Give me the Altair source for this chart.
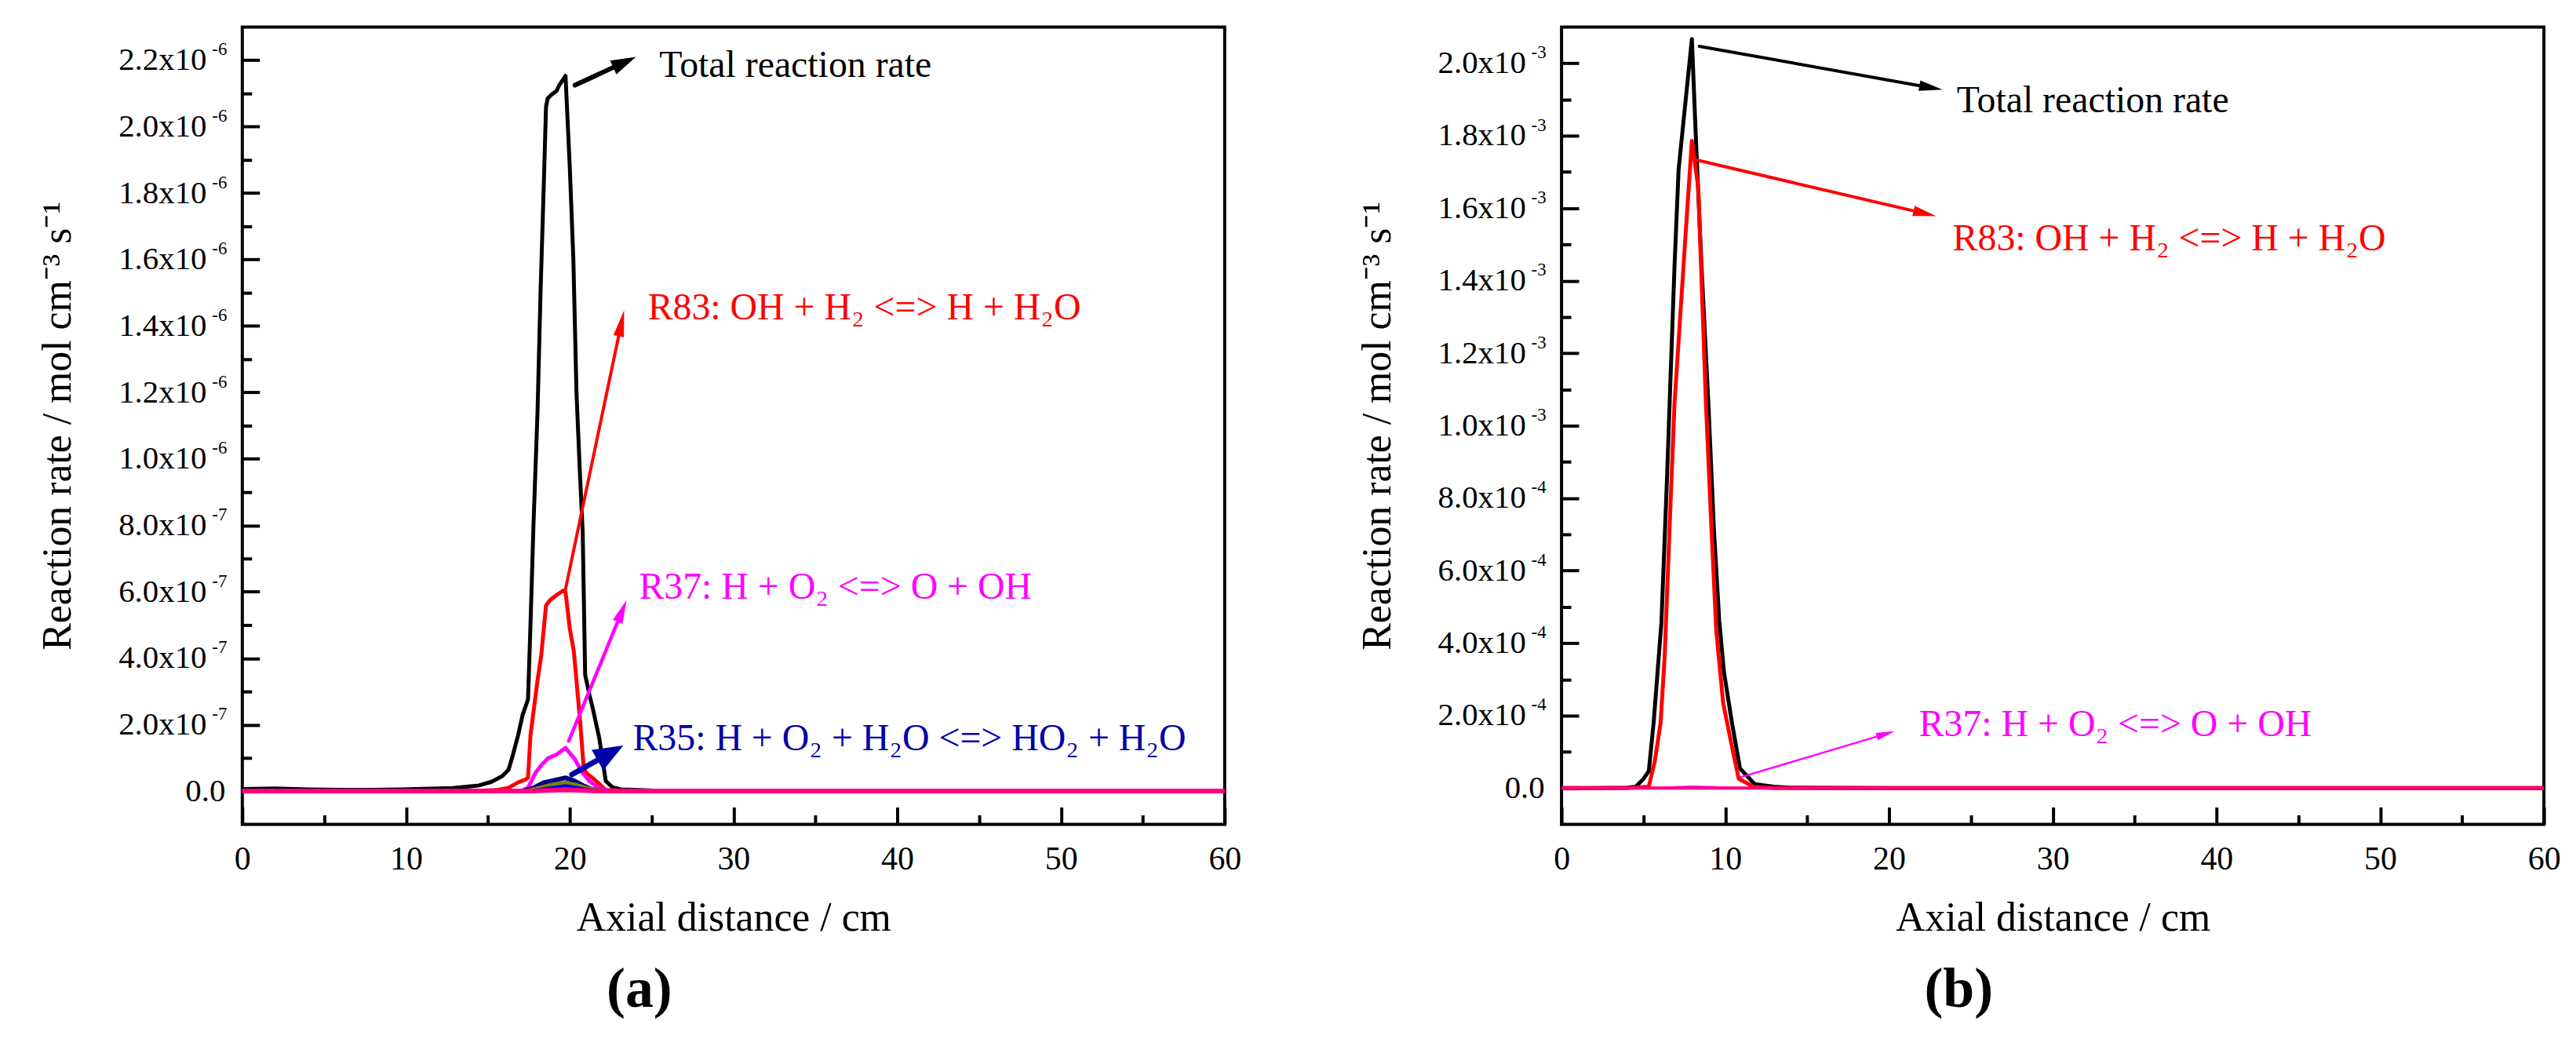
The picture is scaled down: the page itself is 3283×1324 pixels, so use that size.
import math
import altair as alt
import pandas as pd

FONT = "Liberation Serif"
PW, PH = 1257, 1020

X_DOMAIN = [0, 60]
X_TICKS_MAJOR = [0, 10, 20, 30, 40, 50, 60]
X_TICKS_MINOR = [5, 15, 25, 35, 45, 55]

# ---------------- panel (a) data (y in units of 1e-6 mol cm-3 s-1) ----------------
A_UNIT = 1e-6
A_Y_DOMAIN = [-0.1, 2.3]
A_Y_MAJOR = [0.0, 0.2, 0.4, 0.6, 0.8, 1.0, 1.2, 1.4, 1.6, 1.8, 2.0, 2.2]
A_Y_MINOR = [0.1, 0.3, 0.5, 0.7, 0.9, 1.1, 1.3, 1.5, 1.7, 1.9, 2.1]

a_total_x = [0, 2, 4, 6, 8, 9.7, 11, 12.84, 14.45, 15.22, 15.88, 16.26, 16.5, 16.84, 17.12, 17.45,
             17.6, 17.79, 18.03, 18.22, 18.41, 18.55, 18.65, 18.89, 19.2, 19.36, 19.74, 20.0, 20.22,
             20.41, 20.6, 20.79, 20.94, 21.2, 21.4, 21.8, 22.2, 22.6, 23.1, 25, 30, 40, 50, 60]
a_total_y = [0.006, 0.008, 0.005, 0.004, 0.004, 0.005, 0.007, 0.009, 0.017, 0.028, 0.045, 0.064, 0.104,
             0.167, 0.229, 0.276, 0.5, 0.81, 1.14, 1.51, 1.82, 2.06, 2.085, 2.097, 2.108, 2.125, 2.153,
             1.88, 1.6, 1.2, 0.98, 0.78, 0.35, 0.29, 0.25, 0.16, 0.03, 0.012, 0.005, 0.002, 0.001, 0, 0, 0]

a_r83_x = [0, 14, 15.5, 16.26, 16.83, 17.3, 17.45, 17.6, 18.03, 18.26, 18.55, 18.79, 19.2, 19.6, 19.74,
           20.0, 20.25, 20.45, 20.65, 20.85, 21.0, 21.5, 22.2, 24, 30, 60]
a_r83_y = [0, 0, 0.003, 0.01, 0.026, 0.035, 0.04, 0.167, 0.333, 0.41, 0.559, 0.575, 0.59, 0.604, 0.6,
           0.49, 0.42, 0.31, 0.2, 0.07, 0.055, 0.035, 0.003, 0.001, 0, 0]

a_r37_x = [0, 17.0, 17.45, 17.93, 18.3, 18.7, 19.2, 19.74, 20.3, 20.75, 21.2, 21.75, 22.5, 60]
a_r37_y = [0, 0, 0.01, 0.057, 0.08, 0.1, 0.11, 0.13, 0.097, 0.057, 0.03, 0.01, 0, 0]

a_r35_x = [0, 17.2, 17.8, 18.4, 19.0, 19.74, 20.3, 20.8, 21.3, 22.0, 60]
a_r35_y = [0, 0, 0.01, 0.025, 0.032, 0.04, 0.03, 0.017, 0.006, 0, 0]

a_olive_x = [0, 17.3, 18.0, 18.8, 19.74, 20.4, 21.0, 21.6, 22.3, 60]
a_olive_y = [0, 0, 0.008, 0.018, 0.026, 0.019, 0.01, 0.004, 0, 0]

a_blue_x = [0, 17.5, 18.3, 19.0, 19.74, 20.4, 21.1, 21.8, 60]
a_blue_y = [0, 0, 0.006, 0.011, 0.016, 0.011, 0.005, 0, 0]

a_maroon_x = [0, 17.8, 18.8, 19.74, 20.6, 21.5, 60]
a_maroon_y = [0, 0, 0.005, 0.008, 0.005, 0, 0]

a_pink_x = [0, 17.5, 19.74, 22.0, 60]
a_pink_y = [0, 0, 0.004, 0, 0]

# ---------------- panel (b) data (y in units of 1e-3 mol cm-3 s-1) ----------------
B_UNIT = 1e-3
B_Y_DOMAIN = [-0.1, 2.1]
B_Y_MAJOR = [0.0, 0.2, 0.4, 0.6, 0.8, 1.0, 1.2, 1.4, 1.6, 1.8, 2.0]
B_Y_MINOR = [0.1, 0.3, 0.5, 0.7, 0.9, 1.1, 1.3, 1.5, 1.7, 1.9]

b_total_x = [0, 2, 4, 4.53, 5.0, 5.33, 5.63, 6.1, 6.45, 6.6, 6.9, 7.15, 7.96, 8.2, 8.55, 8.97, 9.3,
             9.63, 9.92, 10.4, 10.9, 11.8, 12.95, 14, 20, 30, 40, 50, 60]
b_total_y = [0, 0, 0.001, 0.004, 0.025, 0.047, 0.183, 0.457, 0.866, 1.06, 1.44, 1.707, 2.067, 1.8, 1.44,
             1.06, 0.72, 0.463, 0.32, 0.183, 0.054, 0.011, 0.004, 0.001, 0, 0, 0, 0, 0]

b_r83_x = [0, 4, 5.33, 5.7, 6.05, 6.3, 6.6, 6.9, 7.55, 7.96, 8.35, 8.82, 9.15, 9.45, 9.87, 10.35,
           10.82, 11.7, 13, 60]
b_r83_y = [0, 0, 0.004, 0.075, 0.18, 0.364, 0.72, 1.06, 1.51, 1.786, 1.657, 1.06, 0.72, 0.435, 0.235,
           0.127, 0.026, 0.004, 0, 0]

b_r37_x = [0, 6, 7, 8, 9, 10, 11, 60]
b_r37_y = [0, 0, 0.002, 0.004, 0.003, 0.001, 0, 0]

b_pink_x = [0, 60]
b_pink_y = [0, 0]

# ---------------- annotations (data coordinates, panel units) ----------------
a_arrows = [  # x1, y1, x2(tip), y2(tip), colour, width, head length, head half-width ratio
    (20.32, 2.125, 24.04, 2.21, "#000000", 6, 32, 0.6),
    (19.70, 0.599, 23.32, 1.448, "#FF0000", 4, 34, 0.4),
    (19.94, 0.151, 23.47, 0.575, "#FF00FF", 4.5, 30, 0.45),
    (20.13, 0.050, 23.27, 0.137, "#0000A8", 7, 38, 0.8),
]
a_notes = [  # text, x, y (baseline), colour
    ("Total reaction rate", 25.47, 2.151, "#000000"),
    ("R83: OH + H\u2082 <=> H + H\u2082O", 24.77, 1.42, "#FF0000"),
    ("R37: H + O\u2082 <=> O + OH", 24.23, 0.580, "#FF00FF"),
    ("R35: H + O\u2082 + H\u2082O <=> HO\u2082 + H\u2082O", 23.85, 0.123, "#0000A8"),
]
b_arrows = [
    (8.41, 2.047, 23.27, 1.927, "#000000", 4, 30, 0.45),
    (8.07, 1.735, 22.89, 1.578, "#FF0000", 4, 30, 0.45),
    (10.94, 0.030, 20.35, 0.157, "#FF00FF", 2.5, 24, 0.4),
]
b_notes = [
    ("Total reaction rate", 24.13, 1.866, "#000000"),
    ("R83: OH + H\u2082 <=> H + H\u2082O", 23.89, 1.483, "#FF0000"),
    ("R37: H + O\u2082 <=> O + OH", 21.83, 0.144, "#FF00FF"),
]

a_series = [
    ("Total", a_total_x, a_total_y, "#000000", 5),
    ("R83", a_r83_x, a_r83_y, "#FF0000", 5),
    ("R37", a_r37_x, a_r37_y, "#FF00FF", 5),
    ("R35", a_r35_x, a_r35_y, "#000080", 6),
    ("olive", a_olive_x, a_olive_y, "#808000", 5),
    ("blue", a_blue_x, a_blue_y, "#0000FF", 4),
    ("maroon", a_maroon_x, a_maroon_y, "#A00000", 3),
    ("pink", a_pink_x, a_pink_y, "#FF0080", 6),
]
b_series = [
    ("Total", b_total_x, b_total_y, "#000000", 5),
    ("R83", b_r83_x, b_r83_y, "#FF0000", 5),
    ("R37", b_r37_x, b_r37_y, "#FF00FF", 3),
    ("pink", b_pink_x, b_pink_y, "#FF0080", 4),
]

Y_TITLE = "Reaction rate / mol cm\u207b\u00b3 s\u207b\u00b9"
ZERO_TEST = "abs(datum.value) < 1e-12"
A_MANT_EXPR = (ZERO_TEST + " ? '0.0' : (datum.value > 0.95e-6 ? format(datum.value*1e6, '.1f') : "
               "format(datum.value*1e7, '.1f')) + 'x10'")
A_EXP_EXPR = ZERO_TEST + " ? '' : (datum.value > 0.95e-6 ? '-6' : '-7')"
B_MANT_EXPR = (ZERO_TEST + " ? '0.0' : (datum.value > 0.95e-3 ? format(datum.value*1e3, '.1f') : "
               "format(datum.value*1e4, '.1f')) + 'x10'")
B_EXP_EXPR = ZERO_TEST + " ? '' : (datum.value > 0.95e-3 ? '-3' : '-4')"


def tick_axis_x(values, size):
    return alt.Axis(orient="top", offset=-PH, values=values, ticks=True, tickSize=size,
                    tickWidth=4, tickColor="black", labels=False, domain=False, grid=False, title="")


def tick_axis_y(values, size):
    return alt.Axis(orient="right", offset=-PW, values=values, ticks=True, tickSize=size,
                    tickWidth=4, tickColor="black", labels=False, domain=False, grid=False, title="")


def build_panel(series, unit, ydom, ymaj, ymin_, mant_expr, exp_expr, arrows, notes, caption):
    xs = alt.Scale(domain=X_DOMAIN, nice=False, zero=False)
    ys = alt.Scale(domain=[ydom[0] * unit, ydom[1] * unit], nice=False, zero=False)
    px_x = PW / (X_DOMAIN[1] - X_DOMAIN[0])
    px_y = PH / (ydom[1] - ydom[0])
    major_vals = [v * unit for v in ymaj]

    x_label_axis = alt.Axis(orient="bottom", values=X_TICKS_MAJOR, ticks=False, domain=False, grid=False,
                            labelFont=FONT, labelFontSize=42, labelColor="black", labelPadding=24,
                            labelFlush=False, title="Axial distance / cm", titleFont=FONT,
                            titleFontSize=52, titleFontWeight="normal", titleColor="black",
                            titlePadding=30)
    y_mant_axis = alt.Axis(orient="left", values=major_vals, ticks=False, domain=False,
                           grid=False, labelExpr=mant_expr, labelFont=FONT, labelFontSize=41,
                           labelColor="black",
                           labelPadding={"condition": {"test": ZERO_TEST, "value": 22}, "value": 46},
                           title=Y_TITLE, titleFont=FONT,
                           titleFontSize=52, titleFontWeight="normal", titleColor="black",
                           titlePadding=50)
    y_exp_axis = alt.Axis(orient="left", values=major_vals, ticks=False, domain=False, grid=False,
                          labelExpr=exp_expr, labelFont=FONT, labelFontSize=23, labelColor="black",
                          labelPadding=20, labelOffset=-14, title="")
    axis_sets = [
        (x_label_axis, y_mant_axis),
        (tick_axis_x(X_TICKS_MAJOR, 22), tick_axis_y(major_vals, 22)),
        (tick_axis_x(X_TICKS_MINOR, 12), tick_axis_y([v * unit for v in ymin_], 12)),
        (None, y_exp_axis),
    ]

    layers = []
    for i, (name, xv, yv, color, width) in enumerate(series):
        df = pd.DataFrame({"x": xv, "y": [v * unit for v in yv]})
        ax_x, ax_y = axis_sets[i] if i < len(axis_sets) else (None, None)
        layers.append(
            alt.Chart(df).mark_line(color=color, strokeWidth=width, strokeJoin="round").encode(
                x=alt.X("x:Q", scale=xs, axis=ax_x),
                y=alt.Y("y:Q", scale=ys, axis=ax_y),
            )
        )

    for (x1, y1, x2, y2, color, width, hlen, ratio) in arrows:
        dx = (x2 - x1) * px_x
        dy = -(y2 - y1) * px_y
        L = math.hypot(dx, dy)
        ux, uy = dx / L, dy / L
        angle = math.degrees(math.atan2(dx, -dy)) % 360
        back = hlen * 0.75
        xe = x2 - ux * back / px_x
        ye = y2 + uy * back / px_y
        ldf = pd.DataFrame({"x": [x1, xe], "y": [y1 * unit, ye * unit]})
        layers.append(
            alt.Chart(ldf).mark_line(color=color, strokeWidth=width, strokeCap="round").encode(
                x=alt.X("x:Q", scale=xs, axis=None), y=alt.Y("y:Q", scale=ys, axis=None)
            )
        )
        hdf = pd.DataFrame({"x": [x2], "y": [y2 * unit]})
        shape = f"M0,0L{ratio},2L{-ratio},2Z"
        layers.append(
            alt.Chart(hdf).mark_point(shape=shape, filled=True, opacity=1, strokeWidth=0, color=color,
                                      size=hlen * hlen, angle=angle).encode(
                x=alt.X("x:Q", scale=xs, axis=None), y=alt.Y("y:Q", scale=ys, axis=None)
            )
        )

    for (text, x, y, color) in notes:
        tdf = pd.DataFrame({"x": [x], "y": [y * unit], "t": [text]})
        layers.append(
            alt.Chart(tdf).mark_text(align="left", baseline="alphabetic", font=FONT, fontSize=48,
                                     color=color).encode(
                x=alt.X("x:Q", scale=xs, axis=None), y=alt.Y("y:Q", scale=ys, axis=None), text="t:N"
            )
        )

    return alt.layer(*layers).resolve_axis(x="independent", y="independent").properties(
        width=PW, height=PH,
        title=alt.TitleParams(text=caption, orient="bottom", anchor="middle", frame="bounds", font=FONT,
                              fontSize=72, fontWeight="bold", color="black", offset=30),
    )


panel_a = build_panel(a_series, A_UNIT, A_Y_DOMAIN, A_Y_MAJOR, A_Y_MINOR, A_MANT_EXPR, A_EXP_EXPR,
                      a_arrows, a_notes, "(a)")
panel_b = build_panel(b_series, B_UNIT, B_Y_DOMAIN, B_Y_MAJOR, B_Y_MINOR, B_MANT_EXPR, B_EXP_EXPR,
                      b_arrows, b_notes, "(b)")

chart = alt.hconcat(panel_a, panel_b, spacing=144).properties(
    padding={"left": 38, "top": 22, "right": 10, "bottom": 5},
    background="white",
).configure_view(stroke="black", strokeWidth=4)

chart.save("out.html", embed_options={"renderer": "svg", "actions": False})
